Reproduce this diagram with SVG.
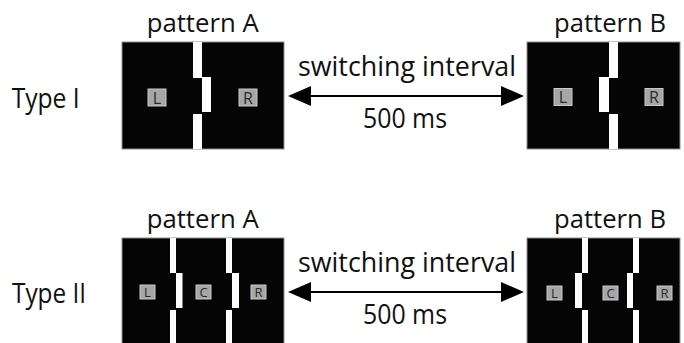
<svg xmlns="http://www.w3.org/2000/svg" width="684" height="343" viewBox="0 0 684 343">
<style>
text{font-family:"Open Sans","Noto Sans","DejaVu Sans",sans-serif;fill:#111}
.big{font-size:27px}
.type{font-size:28px}
.pat{font-size:26px}
.box{fill:#050505;stroke:#8c8c8c;stroke-width:1}
.gap{fill:#ffffff}
.lab{fill:#a6a6a6;stroke:#c8c8c8;stroke-width:1}
.lt{font-size:16px;fill:#2a2a2a;text-anchor:middle}
.lt2{font-size:13px;fill:#2a2a2a;text-anchor:middle}
.arr{stroke:#000;stroke-width:2;fill:none}
</style>
<defs>
<marker id="ah" viewBox="0 0 23 20" refX="1" refY="10" markerWidth="23" markerHeight="20" markerUnits="userSpaceOnUse" orient="auto-start-reverse">
<path d="M0,0 L23,10 L0,20 Z" fill="#000"/>
</marker>
</defs>
<rect width="684" height="343" fill="#fff"/>

<g id="labels">
<text class="type" x="11.7" y="108.3" textLength="68" lengthAdjust="spacingAndGlyphs">Type I</text>
<text class="type" x="12" y="303.3" textLength="74" lengthAdjust="spacingAndGlyphs">Type II</text>
</g>

<g id="row1-patternA">
<text class="pat" x="146.7" y="31.7" textLength="112" lengthAdjust="spacingAndGlyphs">pattern A</text>
<rect class="box" x="122" y="42" width="162" height="107"/>
<rect class="gap" x="193" y="42" width="9" height="36"/>
<rect class="gap" x="202" y="77" width="9" height="35"/>
<rect class="gap" x="193" y="114" width="9" height="35"/>
<rect class="lab" x="148" y="89" width="18" height="17"/>
<text class="lt" x="157" y="103.5">L</text>
<rect class="lab" x="239" y="89" width="18" height="17"/>
<text class="lt" x="248" y="103.5">R</text>
</g>

<g id="row1-patternB">
<text class="pat" x="554" y="31.7" textLength="112" lengthAdjust="spacingAndGlyphs">pattern B</text>
<rect class="box" x="527" y="42" width="153" height="107"/>
<rect class="gap" x="609" y="42" width="9" height="36"/>
<rect class="gap" x="599" y="77" width="10" height="35"/>
<rect class="gap" x="609" y="114" width="9" height="35"/>
<rect class="lab" x="554" y="88.5" width="18" height="17"/>
<text class="lt" x="563" y="103">L</text>
<rect class="lab" x="645" y="88.5" width="18" height="17"/>
<text class="lt" x="654" y="103">R</text>
</g>

<g id="row2-patternA">
<text class="pat" x="146.7" y="227.7" textLength="112" lengthAdjust="spacingAndGlyphs">pattern A</text>
<rect class="box" x="122" y="238" width="162" height="110"/>
<rect class="gap" x="170" y="238" width="6" height="35"/>
<rect class="gap" x="176" y="273" width="6.5" height="35"/>
<rect class="gap" x="170" y="310" width="6" height="34"/>
<rect class="gap" x="226" y="238" width="6" height="35"/>
<rect class="gap" x="232" y="273" width="7" height="35"/>
<rect class="gap" x="226" y="310" width="6" height="34"/>
<rect class="lab" x="140" y="285" width="15" height="14"/>
<text class="lt2" x="147.5" y="297">L</text>
<rect class="lab" x="196" y="285" width="15" height="14"/>
<text class="lt2" x="203.5" y="297">C</text>
<rect class="lab" x="251" y="285" width="15" height="14"/>
<text class="lt2" x="258.5" y="297">R</text>
</g>

<g id="row2-patternB">
<text class="pat" x="554" y="227.7" textLength="112" lengthAdjust="spacingAndGlyphs">pattern B</text>
<rect class="box" x="527" y="238" width="153" height="110"/>
<rect class="gap" x="582" y="238" width="6" height="35"/>
<rect class="gap" x="575" y="273" width="7" height="35"/>
<rect class="gap" x="582" y="310" width="6" height="34"/>
<rect class="gap" x="633" y="238" width="6" height="35"/>
<rect class="gap" x="627" y="273" width="6" height="35"/>
<rect class="gap" x="633" y="310" width="6" height="34"/>
<rect class="lab" x="547" y="286" width="15" height="14"/>
<text class="lt2" x="554.5" y="298">L</text>
<rect class="lab" x="603" y="286" width="15" height="14"/>
<text class="lt2" x="610.5" y="298">C</text>
<rect class="lab" x="657" y="286" width="15" height="14"/>
<text class="lt2" x="664.5" y="298">R</text>
</g>

<g id="connectors">
<line class="arr" x1="310" y1="96" x2="502" y2="96" marker-start="url(#ah)" marker-end="url(#ah)"/>
<text class="big" x="298" y="76" textLength="218" lengthAdjust="spacingAndGlyphs">switching interval</text>
<text class="big" x="363" y="128.3" textLength="84" lengthAdjust="spacingAndGlyphs">500 ms</text>
<line class="arr" x1="310" y1="292" x2="502" y2="292" marker-start="url(#ah)" marker-end="url(#ah)"/>
<text class="big" x="298" y="272" textLength="218" lengthAdjust="spacingAndGlyphs">switching interval</text>
<text class="big" x="363" y="324" textLength="84" lengthAdjust="spacingAndGlyphs">500 ms</text>
</g>
</svg>
